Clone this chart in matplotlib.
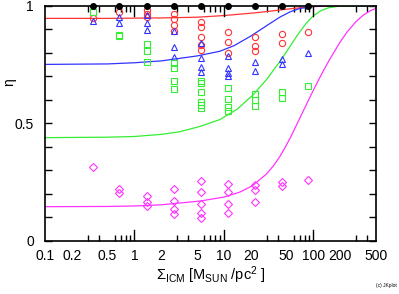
import numpy as np
import matplotlib
matplotlib.use("Agg")
import matplotlib.pyplot as plt
from matplotlib.ticker import FixedLocator, NullFormatter

plt.rcParams['font.family'] = ['Liberation Sans', 'DejaVu Sans']
plt.rcParams['mathtext.fontset'] = 'custom'
plt.rcParams['mathtext.rm'] = 'Liberation Sans'
plt.rcParams['mathtext.it'] = 'Liberation Sans'

# surface density columns of the runs
sigma_cols = [0.34, 0.68, 1.37, 2.74, 5.5, 11, 22, 44, 88]

# measured eta, one list per column
red_pts = [[0.947], [0.974], [0.982, 0.965, 0.950], [0.963, 0.943, 0.918, 0.892],
           [0.932, 0.911, 0.868, 0.833, 0.811], [0.887, 0.847, 0.797],
           [0.868, 0.830, 0.807], [0.878, 0.840], [0.887]]
blue_pts = [[0.935], [0.953, 0.925], [0.960, 0.925, 0.897], [0.894, 0.825, 0.783],
            [0.840, 0.776, 0.740, 0.719], [0.786, 0.733, 0.712, 0.700],
            [0.759, 0.722], [0.772, 0.752], [0.800]]
green_pts = [[0.975], [0.877, 0.870], [0.836, 0.808, 0.762], [0.755, 0.733, 0.679, 0.644],
             [0.679, 0.670, 0.634, 0.591, 0.577, 0.566], [0.648, 0.603, 0.570, 0.553],
             [0.623, 0.598, 0.573], [0.634, 0.606], [0.659]]
mag_pts = [[0.312], [0.219, 0.201], [0.190, 0.165, 0.147], [0.219, 0.170, 0.133, 0.113],
           [0.253, 0.208, 0.155, 0.118, 0.097], [0.241, 0.208, 0.155, 0.116],
           [0.236, 0.214, 0.163], [0.250, 0.232], [0.258]]

# model curves
red_cx = [0.1, 0.5, 1, 2, 5, 10, 20, 30, 50, 70, 100, 150, 200, 500]
red_cy = [0.946, 0.946, 0.947, 0.948, 0.951, 0.958, 0.968, 0.975, 0.985, 0.991, 0.996, 0.999, 1.0, 1.0]
blue_cx = [0.1, 0.5, 1, 2, 5, 9, 13, 20, 30, 42, 55, 70, 100, 150, 500]
blue_cy = [0.750, 0.752, 0.757, 0.765, 0.786, 0.806, 0.830, 0.871, 0.915, 0.951, 0.974, 0.988, 0.997, 1.0, 1.0]
green_cx = [0.1, 0.5, 1, 2, 3.2, 5.4, 9, 14, 21, 30, 44, 55, 66, 80, 90, 100, 120, 147, 200, 500]
green_cy = [0.438, 0.440, 0.443, 0.452, 0.463, 0.486, 0.515, 0.559, 0.619, 0.686, 0.772, 0.828,
            0.874, 0.917, 0.940, 0.957, 0.978, 0.991, 0.999, 1.0]
mag_cx = [0.1, 0.5, 1, 2, 5.4, 10, 15, 21, 30, 36, 42, 48, 55, 66, 80, 100, 125, 150, 200, 240,
          300, 364, 430, 500]
mag_cy = [0.144, 0.145, 0.147, 0.152, 0.168, 0.185, 0.206, 0.234, 0.284, 0.320, 0.357, 0.395,
          0.437, 0.499, 0.565, 0.641, 0.713, 0.768, 0.847, 0.890, 0.933, 0.961, 0.978, 0.989]

colors = {'red': '#ff3333', 'blue': '#3333ff', 'green': '#33ee33', 'mag': '#ff33ff'}

fig = plt.figure(figsize=(3.99, 2.94), dpi=100)
ax = fig.add_axes([45/399, 1-240.5/294, 331/399, 234.8/294])

for name, cx, cy in [('red', red_cx, red_cy), ('blue', blue_cx, blue_cy),
                     ('green', green_cx, green_cy), ('mag', mag_cx, mag_cy)]:
    ax.plot(cx, cy, '-', color=colors[name], lw=0.9, zorder=2)

for name, pts, mk, ms in [('red', red_pts, 'o', 4.5), ('blue', blue_pts, '^', 4.5),
                          ('green', green_pts, 's', 4.2), ('mag', mag_pts, 'D', 3.8)]:
    xs, ys = [], []
    for s, col in zip(sigma_cols, pts):
        xs += [s] * len(col)
        ys += col
    ax.plot(xs, ys, mk, mfc='none', mec=colors[name], mew=0.8, ms=ms, zorder=3)

ax.plot(sigma_cols, [1.0] * len(sigma_cols), 'o', color='black', ms=4, clip_on=False, zorder=5)

ax.set_xscale('log')
ax.set_xlim(0.1, 500)
ax.set_ylim(0, 1)

major_x = [0.1, 0.2, 0.5, 1, 2, 5, 10, 20, 50, 100, 200, 500]
ax.xaxis.set_major_locator(FixedLocator(major_x))
ax.set_xticklabels(['0.1', '0.2', '0.5', '1', '2', '5', '10', '20', '50', '100', '200', '500'])
minor_x = [m * d for d in [0.1, 1, 10, 100] for m in range(2, 10) if m * d < 500]
ax.xaxis.set_minor_locator(FixedLocator(minor_x))
ax.xaxis.set_minor_formatter(NullFormatter())
ax.set_yticks([0, 0.5, 1])
ax.set_yticklabels(['0', '0.5', '1'])
ax.yaxis.set_minor_locator(FixedLocator(np.arange(0.1, 1.0, 0.1)))

ax.tick_params(which='both', direction='in', top=True, right=True, width=1, labelsize=10)
ax.tick_params(axis='x', which='major', length=0, pad=6)
ax.tick_params(axis='x', which='minor', length=4)
ax.tick_params(axis='y', which='major', length=5, pad=8)
ax.tick_params(axis='y', which='minor', length=5)
# decade marks are longer
for d in [1, 10, 100]:
    ax.plot([d, d], [0, 0.045], color='black', lw=1, zorder=4)
    ax.plot([d, d], [1, 0.955], color='black', lw=1, zorder=4)

for sp in ax.spines.values():
    sp.set_linewidth(1.2)

ax.set_xlabel(r'$\Sigma_{\rm ICM}$ [M$_{\rm SUN}$ /pc$^{2}$ ]', fontsize=10.5, labelpad=1)
fig.text(9/399, 1-82/294, 'η', fontsize=10, rotation=90, ha='center', va='center')
fig.text(0.995, 0.02, '(c) JKplot', fontsize=3.5, ha='right', va='bottom')

fig.savefig('out.png', dpi=100)
